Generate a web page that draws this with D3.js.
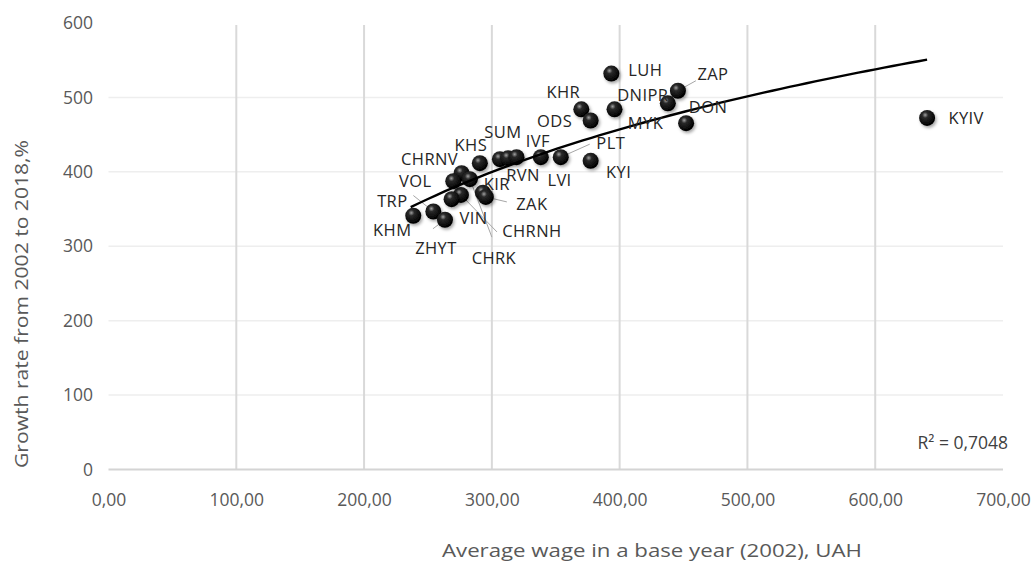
<!DOCTYPE html>
<html>
<head>
<meta charset="utf-8">
<script src="https://cdn.jsdelivr.net/npm/d3@7"></script>
<style>
  body { margin: 0; background: #fff; }
  text { font-family: "Open Sans", "Noto Sans", sans-serif; }
</style>
</head>
<body>
<div id="chart"></div>
<script>
// regions (short codes), as printed in the picture
const regions = ["KYIV", "LUH", "ZAP", "DNIPR", "DON", "KHR", "ODS", "MYK", "PLT", "IVF", "KYI",
  "SUM", "RVN", "LVI", "KHS", "CHRNV", "CHRK", "CHRNH", "VIN", "VOL", "KIR", "ZAK", "KHM", "TRP", "ZHYT"];
// average wage in 2002, UAH
const wage2002 = [640.6, 393.5, 445.6, 437.7, 452.0, 370.0, 377.3, 396.0, 353.9, 338.3, 377.3,
  306.3, 312.7, 319.3, 290.6, 276.3, 282.8, 275.8, 268.5, 269.8, 293.0, 295.3, 238.5, 254.2, 263.3];
// growth rate 2002 -> 2018, %
const growth = [472.5, 532.0, 509.0, 492.0, 465.4, 484.0, 469.0, 484.0, 419.7, 419.7, 414.8,
  417.0, 418.4, 419.7, 411.6, 398.2, 390.2, 369.0, 363.3, 387.4, 372.0, 366.3, 341.0, 346.7, 335.6];

const xTicks = [0, 100, 200, 300, 400, 500, 600, 700];
const yTicks = [0, 100, 200, 300, 400, 500, 600];
const r2Text = "R² = 0,7048";

// label placement: [dx, dy] of label centre from the point, optional leader end [lx, ly]
const labelPos = {
  KYIV: [39, 0], LUH: [34, -3], ZAP: [35, -16, 18, -10], DNIPR: [-25, -8], DON: [22, -16],
  KHR: [-18, -17], ODS: [-36, 1], MYK: [31, 14], PLT: [50, -14, 29, -13], IVF: [-3, -16],
  KYI: [28, 11], SUM: [3, -27], RVN: [15, 17], LVI: [43, 23], KHS: [-9, -18],
  CHRNV: [-32, -14], CHRK: [24, 79, 22, 58], CHRNH: [71, 36, 36, 37], VIN: [22, 19],
  VOL: [-38, 0], KIR: [14, -8], ZAK: [46, 7, 21, 5], KHM: [-21, 14], TRP: [-41, -10, -20, -16],
  ZHYT: [-9, 28, -12, 9]
};

const W = 1036, H = 563;
const svg = d3.select("#chart").append("svg").attr("width", W).attr("height", H);

const x = d3.scaleLinear().domain([0, 700]).range([108.5, 1003]);
const y = d3.scaleLinear().domain([0, 600]).range([469.5, 23]);

const fmt = (v) => d3.format(".2f")(v).replace(".", ",");

// gridlines
svg.append("g").selectAll("line")
  .data(yTicks.filter((d) => d > 0 && d < 600))
  .enter().append("line")
  .attr("x1", x(0)).attr("x2", x(700))
  .attr("y1", (d) => y(d)).attr("y2", (d) => y(d))
  .attr("stroke", "#eeeeee").attr("stroke-width", 1.5);

svg.append("g").selectAll("line")
  .data(xTicks.filter((d) => d > 0 && d < 700))
  .enter().append("line")
  .attr("x1", (d) => x(d)).attr("x2", (d) => x(d))
  .attr("y1", y(600) + 2).attr("y2", y(0))
  .attr("stroke", "#d9d9d9").attr("stroke-width", 2);

// x axis line
svg.append("line")
  .attr("x1", x(0)).attr("x2", x(700))
  .attr("y1", y(0)).attr("y2", y(0))
  .attr("stroke", "#d4d4d4").attr("stroke-width", 2);

// tick labels
const xAxis = d3.axisBottom(x).tickValues(xTicks).tickFormat(fmt).tickSize(0).tickPadding(0);
const gx = svg.append("g").attr("transform", `translate(0,${y(0) + 30})`).call(xAxis);
gx.select(".domain").remove();
gx.selectAll("text").attr("font-size", 17.5).attr("fill", "#595959").attr("dy", "0.35em")
  .attr("font-family", "'Open Sans', sans-serif");

const yAxis = d3.axisLeft(y).tickValues(yTicks).tickSize(0).tickPadding(0);
const gy = svg.append("g").attr("transform", `translate(93,0)`).call(yAxis);
gy.select(".domain").remove();
gy.selectAll("text").attr("font-size", 17.5).attr("fill", "#595959")
  .attr("font-family", "'Open Sans', sans-serif");

// axis titles
svg.append("text")
  .attr("x", 652).attr("y", 551)
  .attr("text-anchor", "middle").attr("dy", "0.35em")
  .attr("font-size", 18.5).attr("fill", "#595959")
  .attr("textLength", 420).attr("lengthAdjust", "spacingAndGlyphs")
  .text("Average wage in a base year (2002), UAH");

svg.append("text")
  .attr("transform", "translate(22,304) rotate(-90)")
  .attr("text-anchor", "middle").attr("dy", "0.35em")
  .attr("font-size", 18.5).attr("fill", "#595959")
  .attr("textLength", 328).attr("lengthAdjust", "spacingAndGlyphs")
  .text("Growth rate from 2002 to 2018,%");

// logarithmic trend line, least squares on ln(x)
const lx = wage2002.map(Math.log);
const mx = d3.mean(lx), my = d3.mean(growth);
const slope = d3.sum(lx, (v, i) => (v - mx) * (growth[i] - my)) / d3.sum(lx, (v) => (v - mx) * (v - mx));
const icpt = my - slope * mx;
const xMin = d3.min(wage2002) - 2, xMax = d3.max(wage2002);
const trend = d3.range(0, 61).map((i) => {
  const xv = xMin + (xMax - xMin) * i / 60;
  return [xv, slope * Math.log(xv) + icpt];
});

// points data
const pts = regions.map((name, i) => ({ name, wx: wage2002[i], g: growth[i] }));

// gradient for sphere markers
const defs = svg.append("defs");
const grad = defs.append("radialGradient").attr("id", "ball")
  .attr("cx", "38%").attr("cy", "32%").attr("r", "65%");
grad.append("stop").attr("offset", "0%").attr("stop-color", "#a0a0a0");
grad.append("stop").attr("offset", "28%").attr("stop-color", "#2a2a2a");
grad.append("stop").attr("offset", "100%").attr("stop-color", "#000");
defs.append("filter").attr("id", "shadow").attr("x", "-50%").attr("y", "-50%").attr("width", "200%").attr("height", "200%")
  .append("feDropShadow").attr("dx", 1.5).attr("dy", 2).attr("stdDeviation", 1.5)
  .attr("flood-color", "#000").attr("flood-opacity", 0.35);

// leader lines
svg.append("g").selectAll("line")
  .data(pts.filter((d) => labelPos[d.name].length > 2))
  .enter().append("line")
  .attr("x1", (d) => x(d.wx)).attr("y1", (d) => y(d.g))
  .attr("x2", (d) => x(d.wx) + labelPos[d.name][2])
  .attr("y2", (d) => y(d.g) + labelPos[d.name][3])
  .attr("stroke", "#a6a6a6").attr("stroke-width", 1);

// markers
svg.append("g").selectAll("circle")
  .data(pts)
  .enter().append("circle")
  .attr("cx", (d) => x(d.wx)).attr("cy", (d) => y(d.g))
  .attr("r", 8)
  .attr("fill", "url(#ball)")
  .attr("filter", "url(#shadow)");

// trend line
svg.append("path")
  .datum(trend)
  .attr("d", d3.line().x((d) => x(d[0])).y((d) => y(d[1])))
  .attr("fill", "none").attr("stroke", "#000").attr("stroke-width", 2.4);

// point labels
svg.append("g").selectAll("text")
  .data(pts)
  .enter().append("text")
  .attr("x", (d) => x(d.wx) + labelPos[d.name][0])
  .attr("y", (d) => y(d.g) + labelPos[d.name][1])
  .attr("text-anchor", "middle").attr("dy", "0.35em")
  .attr("font-size", 16.5).attr("letter-spacing", 0.4).attr("fill", "#262626")
  .text((d) => d.name);

// R² note
svg.append("text")
  .attr("x", 1008).attr("y", 443)
  .attr("text-anchor", "end").attr("dy", "0.35em")
  .attr("font-size", 17.5).attr("fill", "#404040")
  .text(r2Text);
</script>
</body>
</html>
